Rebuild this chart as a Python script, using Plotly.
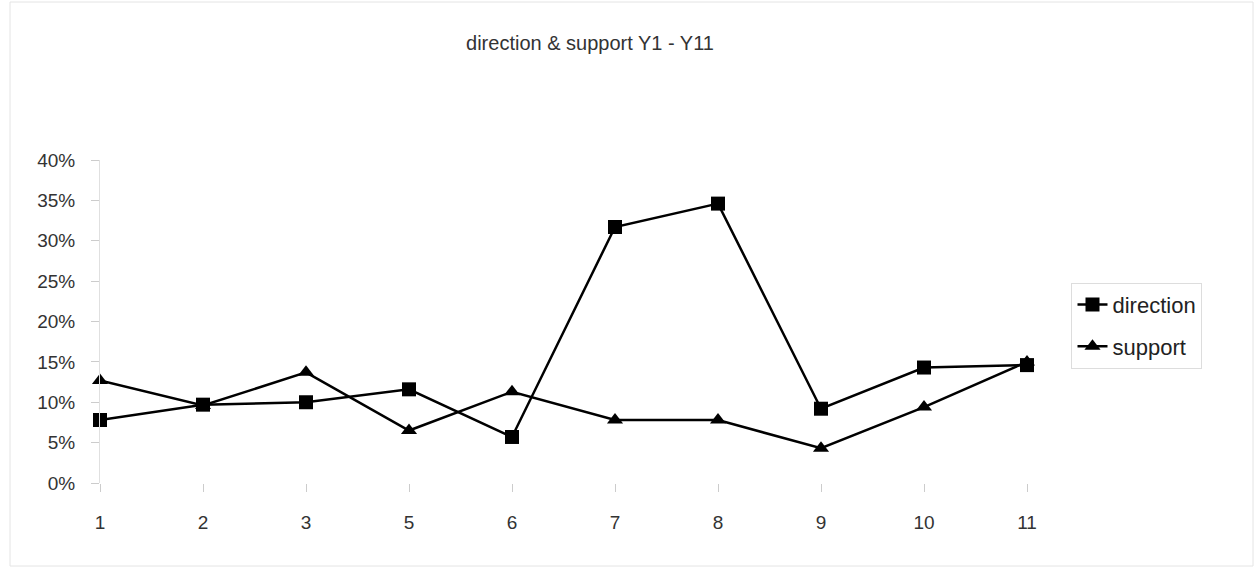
import plotly.graph_objects as go

categories = ["1", "2", "3", "5", "6", "7", "8", "9", "10", "11"]
direction = [7.8, 9.7, 10.0, 11.6, 5.7, 31.7, 34.6, 9.2, 14.3, 14.6]
support = [12.7, 9.6, 13.7, 6.5, 11.3, 7.8, 7.8, 4.3, 9.4, 15.0]
y_ticks = [0, 5, 10, 15, 20, 25, 30, 35, 40]
y_labels = [f"{v}%" for v in y_ticks]

FONT = "Liberation Sans Narrow, Liberation Sans, Arial, sans-serif"

fig = go.Figure()
fig.add_trace(go.Scatter(
    x=categories, y=direction, name="direction", mode="lines+markers",
    line=dict(color="black", width=2.5),
    marker=dict(symbol="square", size=14, color="black"),
    cliponaxis=False, legendgroup="a",
))
fig.add_trace(go.Scatter(
    x=categories, y=support, name="support", mode="lines+markers",
    line=dict(color="black", width=2.5),
    marker=dict(symbol="triangle-up", size=14, color="black"),
    cliponaxis=False, legendgroup="b",
))

fig.update_layout(
    width=1257, height=569,
    margin=dict(l=100, r=230, t=160, b=86),
    paper_bgcolor="white", plot_bgcolor="white",
    font=dict(family=FONT, size=19, color="#333333"),
    title=dict(text="direction & support Y1 - Y11", x=590/1257, xanchor="center",
               y=1 - 43/569, yanchor="middle", xref="container", yref="container",
               font=dict(family=FONT, size=20, color="#333333")),
    showlegend=True,
    legend=dict(x=1.048, y=0.62, xanchor="left", yanchor="top",
                bordercolor="#dddddd", borderwidth=1, bgcolor="white",
                font=dict(family=FONT, size=22, color="#222222"),
                traceorder="grouped", tracegroupgap=10),
    shapes=[dict(type="rect", xref="paper", yref="paper",
                 x0=(10-100)/927, x1=(1253-100)/927, y0=(483-566)/323, y1=(483-2)/323,
                 line=dict(color="#e4e4e4", width=1), layer="below")],
)
fig.update_xaxes(
    type="category", range=[0, len(categories) - 1],
    showline=False, showgrid=False, zeroline=False,
    ticks="outside", ticklen=8, tickcolor="#cccccc",
    tickfont=dict(family=FONT, size=19, color="#333333"),
    ticklabelstandoff=14,
)
fig.update_yaxes(
    range=[0, 40], tickvals=y_ticks, ticktext=y_labels,
    showline=True, linecolor="#e0e0e0", linewidth=1,
    showgrid=False, zeroline=False,
    ticks="outside", ticklen=8, tickcolor="#cccccc",
    tickfont=dict(family=FONT, size=19, color="#333333"),
    ticklabelstandoff=12,
)

fig.write_html("out.html")
